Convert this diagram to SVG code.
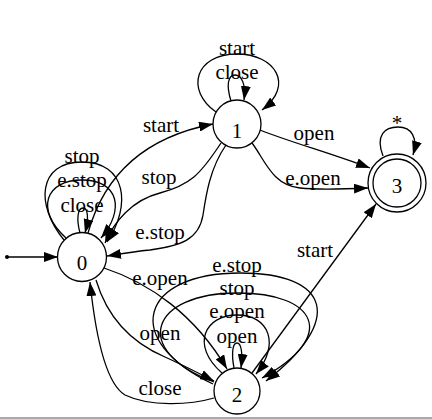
<svg xmlns="http://www.w3.org/2000/svg" width="432" height="419" viewBox="0 0 432 419">
  <style>
    .node circle { fill: none; stroke: #000; stroke-width: 1.3; }
    .edge { fill: none; stroke: #000; stroke-width: 1.3; marker-end: url(#arrow); }
    text { font-family: "Liberation Serif", "Times New Roman", serif; font-size: 21px; fill: #000; text-anchor: middle; }
  </style>
  <defs>
    <marker id="arrow" markerUnits="userSpaceOnUse" markerWidth="14" markerHeight="10" refX="14" refY="5" orient="auto">
      <path d="M0,0 L14,5 L0,10 z" fill="#000"/>
    </marker>
  </defs>
  <rect x="0" y="0" width="432" height="419" fill="#fff"/>
  <rect x="0" y="417" width="432" height="2" fill="#aaa"/>

  <!-- transitions -->
  <g id="edges">
    <!-- entry arrow -->
    <circle cx="7" cy="257" r="2" fill="#000"/>
    <path class="edge" d="M7,257 L58,257"/>

    <!-- state 0 self loops -->
    <path class="edge" d="M64,240 C 35,205 38,162 82,162 C 126,162 132,205 107,242"/>
    <path class="edge" d="M66,238 C 35,210 45,180 82,180 C 119,180 125,210 101,238"/>
    <path class="edge" d="M80,233 C 76,218 78,208 83,208 C 88,208 89,218 85,233"/>

    <!-- 0 -> 1 start -->
    <path class="edge" d="M88,233 C 100,190 130,140 213,124"/>
    <!-- 1 -> 0 stop -->
    <path class="edge" d="M221,143 C 200,175 190,185 160,193 C 132,200 114,222 105,243"/>
    <!-- 1 -> 0 e.stop -->
    <path class="edge" d="M226,145 C 210,168 206,195 203,215 C 199,240 180,246 150,250 C 130,252 120,254 107,256"/>

    <!-- state 1 self loops -->
    <path class="edge" d="M216,112 C 185,90 195,54 237,54 C 275,54 295,85 262,110"/>
    <path class="edge" d="M231,101 C 226,85 228,75 235,75 C 242,75 246,85 244,100"/>

    <!-- 1 -> 3 -->
    <path class="edge" d="M260,130 C 290,142 330,153 370,168"/>
    <path class="edge" d="M252,143 C 265,160 272,185 300,188 C 320,190 345,189 368,188"/>

    <!-- state 3 self loop -->
    <path class="edge" d="M383,156 C 375,135 385,127 398,127 C 412,127 418,138 413,155"/>

    <!-- 0 -> 2 -->
    <path class="edge" d="M104,268 C 150,283 195,315 227,369"/>
    <path class="edge" d="M96,280 C 105,310 125,340 165,357 C 185,366 200,374 214,381"/>
    <!-- 2 -> 0 close -->
    <path class="edge" d="M214,398 C 190,405 150,407 125,395 C 105,383 95,330 90,282"/>

    <!-- state 2 self loops -->
    <path class="edge" d="M213,384 C 120,340 140,273 240,273 C 330,273 345,320 266,381"/>
    <path class="edge" d="M214,382 C 130,350 150,293 238,293 C 315,293 340,335 262,378"/>
    <path class="edge" d="M222,373 C 190,345 205,315 237,315 C 270,315 280,345 256,374"/>
    <path class="edge" d="M234,368 C 231,352 233,343 237,343 C 241,343 243,352 241,368"/>

    <!-- 2 -> 3 start -->
    <path class="edge" d="M252,373 L376,204"/>

    <!-- transition labels -->
    <text x="82" y="163">stop</text>
    <text x="82" y="187">e.stop</text>
    <text x="82" y="212">close</text>
    <text x="161" y="132">start</text>
    <text x="159" y="184">stop</text>
    <text x="160" y="239">e.stop</text>
    <text x="237" y="55">start</text>
    <text x="237" y="79">close</text>
    <text x="314" y="140">open</text>
    <text x="313" y="185">e.open</text>
    <text x="397" y="130">*</text>
    <text x="160" y="285">e.open</text>
    <text x="160" y="340">open</text>
    <text x="160" y="395">close</text>
    <text x="237" y="272">e.stop</text>
    <text x="237" y="295">stop</text>
    <text x="237" y="318">e.open</text>
    <text x="237" y="343">open</text>
    <text x="315" y="257">start</text>
  </g>

  <g id="state0" class="node">
    <circle cx="82" cy="257" r="24.5"/>
    <text x="82" y="270">0</text>
  </g>
  <g id="state1" class="node">
    <circle cx="237" cy="124" r="24"/>
    <text x="237" y="138">1</text>
  </g>
  <g id="state2" class="node">
    <circle cx="237" cy="391" r="23"/>
    <text x="237" y="402">2</text>
  </g>
  <g id="state3" class="node">
    <circle cx="397" cy="183" r="29"/>
    <circle cx="397" cy="183" r="24"/>
    <text x="397" y="193">3</text>
  </g>
</svg>
